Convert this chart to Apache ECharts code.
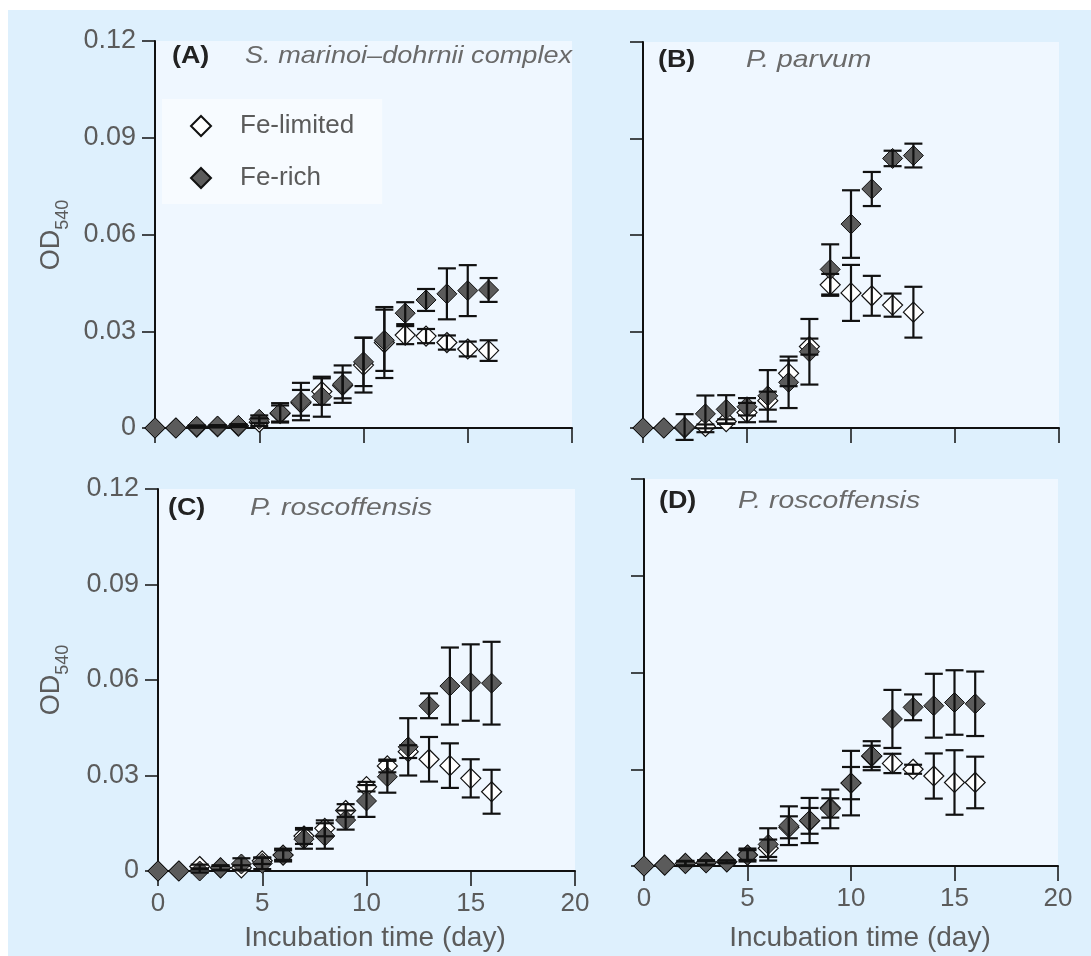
<!DOCTYPE html>
<html>
<head>
<meta charset="utf-8">
<script src="https://cdn.jsdelivr.net/npm/echarts@6/dist/echarts.min.js"></script>
<style>
  html, body { margin: 0; padding: 0; background: #ffffff; }
  #bg { position: absolute; left: 8px; top: 10px; width: 1083px; height: 946px; background: #def0fd; }
  #main { position: absolute; left: 0; top: 0; width: 1091px; height: 956px; }
</style>
</head>
<body>
<div id="bg"></div>
<div id="main"></div>
<script>
// ---------------- data ----------------
const days16 = [0,1,2,3,4,5,6,7,8,9,10,11,12,13,14,15,16];
const days13 = [0,1,2,3,4,5,6,7,8,9,10,11,12,13];
const xTicks = [0, 5, 10, 15, 20];
const yTicks = [0, 0.03, 0.06, 0.09, 0.12];

const panelLabels = ['(A)', '(B)', '(C)', '(D)'];
const speciesNames = ['S. marinoi\u2012dohrnii complex', 'P. parvum', 'P. roscoffensis', 'P. roscoffensis'];
const seriesNames = ['Fe-limited', 'Fe-rich'];
const xTitle = 'Incubation time (day)';

// Panel A: S. marinoi-dohrnii complex
const A_lim     = [0,0,0.0003,0.0004,0.0006,0.0018,0.0045,0.0078,0.0113,0.0132,0.0195,0.0265,0.0288,0.0285,0.0265,0.0245,0.0240];
const A_limErr  = [0,0,0.0002,0.0002,0.0003,0.0012,0.0025,0.0040,0.0041,0.0040,0.0085,0.0110,0.0028,0.0022,0.0022,0.0023,0.0032];
const A_rich    = [0,0,0.0005,0.0006,0.0008,0.0027,0.0047,0.0082,0.0097,0.0136,0.0205,0.0272,0.0356,0.0397,0.0416,0.0426,0.0428];
const A_richErr = [0,0,0.0003,0.0003,0.0004,0.0012,0.0030,0.0058,0.0062,0.0058,0.0075,0.0095,0.0034,0.0034,0.0079,0.0079,0.0037];

// Panel B: P. parvum
const B_lim     = [0,0,0,0.0005,0.0020,0.0048,0.0085,0.0170,0.0253,0.0445,0.0420,0.0411,0.0382,0.0360];
const B_limErr  = [0,0,0,0.0006,0.0007,0.0030,0.0028,0.0040,0.0025,0.0034,0.0087,0.0062,0.0036,0.0079];
const B_rich    = [0,0,0.0003,0.0044,0.0058,0.0066,0.0100,0.0142,0.0237,0.0493,0.0634,0.0743,0.0838,0.0847];
const B_richErr = [0,0,0.0040,0.0057,0.0044,0.0027,0.0080,0.0080,0.0102,0.0078,0.0105,0.0053,0.0024,0.0037];

// Panel C: P. roscoffensis
const C_lim     = [0,0,0.0014,0.0010,0.0010,0.0032,0.0050,0.0110,0.0134,0.0190,0.0265,0.0330,0.0375,0.0351,0.0331,0.0291,0.0249];
const C_limErr  = [0,0,0.0006,0.0006,0.0008,0.0010,0.0015,0.0025,0.0025,0.0020,0.0015,0.0020,0.0020,0.0070,0.0070,0.0060,0.0069];
const C_rich    = [0,0,0,0.0010,0.0022,0.0024,0.0050,0.0100,0.0110,0.0160,0.0220,0.0296,0.0390,0.0519,0.0581,0.0592,0.0590];
const C_richErr = [0,0,0.0005,0.0008,0.0018,0.0018,0.0020,0.0030,0.0040,0.0030,0.0050,0.0050,0.0090,0.0039,0.0121,0.0120,0.0130];

// Panel D: P. roscoffensis
const D_lim     = [0,0.0003,0.0008,0.0010,0.0013,0.0034,0.0055,0.0120,0.0140,0.0180,0.0257,0.0340,0.0318,0.0300,0.0279,0.0259,0.0259];
const D_limErr  = [0,0,0.0006,0.0006,0.0004,0.0015,0.0027,0.0034,0.0040,0.0030,0.0050,0.0033,0.0030,0.0014,0.0070,0.0100,0.0080];
const D_rich    = [0,0.0003,0.0008,0.0010,0.0013,0.0034,0.0067,0.0125,0.0141,0.0177,0.0257,0.0342,0.0456,0.0492,0.0497,0.0507,0.0503];
const D_richErr = [0,0,0.0008,0.0008,0.0004,0.0020,0.0050,0.0060,0.0070,0.0060,0.0100,0.0045,0.0090,0.0040,0.0099,0.0100,0.0100];

const panels = [
  { days: days16, lim: A_lim, limErr: A_limErr, rich: A_rich, richErr: A_richErr },
  { days: days13, lim: B_lim, limErr: B_limErr, rich: B_rich, richErr: B_richErr },
  { days: days16, lim: C_lim, limErr: C_limErr, rich: C_rich, richErr: C_richErr },
  { days: days16, lim: D_lim, limErr: D_limErr, rich: D_rich, richErr: D_richErr }
];

// ---------------- layout ----------------
const grids = [
  { left: 155, top: 41,  width: 417, height: 387 },
  { left: 643, top: 42,  width: 416, height: 386 },
  { left: 158, top: 489, width: 417, height: 382 },
  { left: 644, top: 479, width: 414, height: 387 }
];
const labelPos = [
  { lx: 172, sx: 245, y: 56,  s: 1.13 },
  { lx: 658, sx: 746, y: 60,  s: 1.18 },
  { lx: 168, sx: 250, y: 508, s: 1.18 },
  { lx: 659, sx: 738, y: 501, s: 1.18 }
];

const axisColor = '#111111';
const textGray = '#5b5b5b';

function errRender(params, api) {
  const x = api.value(0), lo = api.value(1), hi = api.value(2);
  if (hi - lo < 0.0003) return null;
  const pH = api.coord([x, hi]);
  const pL = api.coord([x, lo]);
  const hw = 9;
  const st = { stroke: '#111111', lineWidth: 2.2 };
  return {
    type: 'group',
    children: [
      { type: 'line', shape: { x1: pH[0], y1: pH[1], x2: pL[0], y2: pL[1] }, style: st },
      { type: 'line', shape: { x1: pH[0] - hw, y1: pH[1], x2: pH[0] + hw, y2: pH[1] }, style: st },
      { type: 'line', shape: { x1: pL[0] - hw, y1: pL[1], x2: pL[0] + hw, y2: pL[1] }, style: st }
    ]
  };
}

const option = {
  animation: false,
  backgroundColor: 'transparent',
  grid: grids.map(g => Object.assign({ show: true, backgroundColor: '#eff7ff', borderWidth: 0, containLabel: false }, g)),
  legend: {
    data: seriesNames.map(n => ({ name: n, icon: 'diamond' })),
    orient: 'vertical',
    left: 162, top: 99,
    padding: [12, 28, 11, 28],
    itemWidth: 20, itemHeight: 20, itemGap: 22,
    backgroundColor: '#f7fbff',
    selectedMode: false,
    textStyle: { fontFamily: 'Liberation Sans', fontSize: 26, color: textGray, lineHeight: 30, padding: [0, 0, 0, 24] }
  },
  xAxis: grids.map((g, i) => ({
    type: 'value', gridIndex: i, min: xTicks[0], max: xTicks[xTicks.length - 1], interval: 5,
    axisLine: { show: true, onZero: false, lineStyle: { color: axisColor, width: 2 } },
    axisTick: { show: true, inside: false, length: 15, lineStyle: { color: axisColor, width: 1.5 } },
    axisLabel: { show: i >= 2, margin: 20, fontFamily: 'Liberation Sans', fontSize: 26, color: textGray },
    splitLine: { show: false }
  })),
  yAxis: grids.map((g, i) => ({
    type: 'value', gridIndex: i, min: yTicks[0], max: yTicks[yTicks.length - 1], interval: 0.03,
    axisLine: { show: true, onZero: false, lineStyle: { color: axisColor, width: 2 } },
    axisTick: { show: true, inside: false, length: 13, lineStyle: { color: axisColor, width: 1.5 } },
    axisLabel: {
      show: i % 2 === 0, margin: 19, fontFamily: 'Liberation Sans', fontSize: 27, color: textGray,
      formatter: v => (v === 0 ? '0' : v.toFixed(2))
    },
    splitLine: { show: false }
  })),
  series: [],
  graphic: []
};

panels.forEach((p, i) => {
  option.series.push({
    name: seriesNames[0], type: 'scatter', xAxisIndex: i, yAxisIndex: i, z: 2,
    symbol: 'diamond', symbolSize: 20,
    itemStyle: { color: '#ffffff', borderColor: '#111111', borderWidth: 1.2, opacity: 1 },
    data: p.days.map((d, k) => [d, p.lim[k]])
  });
  option.series.push({
    name: seriesNames[1], type: 'scatter', xAxisIndex: i, yAxisIndex: i, z: 3,
    symbol: 'diamond', symbolSize: 20,
    itemStyle: { color: '#5b5b5b', borderColor: '#111111', borderWidth: 1, opacity: 1 },
    data: p.days.map((d, k) => [d, p.rich[k]])
  });
  option.series.push({
    type: 'custom', xAxisIndex: i, yAxisIndex: i, z: 4, clip: false,
    renderItem: errRender,
    encode: { x: 0, y: [1, 2] },
    data: p.days.map((d, k) => [d, p.lim[k] - p.limErr[k], p.lim[k] + p.limErr[k]])
  });
  option.series.push({
    type: 'custom', xAxisIndex: i, yAxisIndex: i, z: 4, clip: false,
    renderItem: errRender,
    encode: { x: 0, y: [1, 2] },
    data: p.days.map((d, k) => [d, p.rich[k] - p.richErr[k], p.rich[k] + p.richErr[k]])
  });

  const lp = labelPos[i];
  option.graphic.push({
    type: 'text', x: lp.lx, y: lp.y, scaleX: 1.12, z: 10,
    style: { text: panelLabels[i], x: 0, y: 0, align: 'left', verticalAlign: 'middle',
      fontFamily: 'Liberation Sans', fontWeight: 'bold', fontSize: 24, fill: '#222222' }
  });
  option.graphic.push({
    type: 'text', x: lp.sx, y: lp.y, scaleX: lp.s, z: 10,
    style: { text: speciesNames[i], x: 0, y: 0, align: 'left', verticalAlign: 'middle',
      fontFamily: 'Liberation Sans', fontStyle: 'italic', fontSize: 24, fill: '#6a6a6a' }
  });
});

// Y-axis titles (OD540 with subscript)
[235, 680].forEach(cy => {
  option.graphic.push({
    type: 'text', x: 55, y: cy, rotation: Math.PI / 2, z: 10,
    style: {
      text: '{a|OD}{b|540}', x: 0, y: 0, align: 'center', verticalAlign: 'middle',
      fill: textGray,
      rich: {
        a: { fontFamily: 'Liberation Sans', fontSize: 27, verticalAlign: 'bottom', padding: [0, 0, 7, 0], fill: textGray },
        b: { fontFamily: 'Liberation Sans', fontSize: 18, verticalAlign: 'bottom', fill: textGray }
      }
    }
  });
});

// X-axis titles
[375, 860].forEach(cx => {
  option.graphic.push({
    type: 'text', x: cx, y: 938, z: 10,
    style: { text: xTitle, x: 0, y: 0, align: 'center', verticalAlign: 'middle',
      fontFamily: 'Liberation Sans', fontSize: 28, fill: textGray }
  });
});

const chart = echarts.init(document.getElementById('main'), null, { renderer: 'canvas' });
chart.setOption(option);
</script>
</body>
</html>
